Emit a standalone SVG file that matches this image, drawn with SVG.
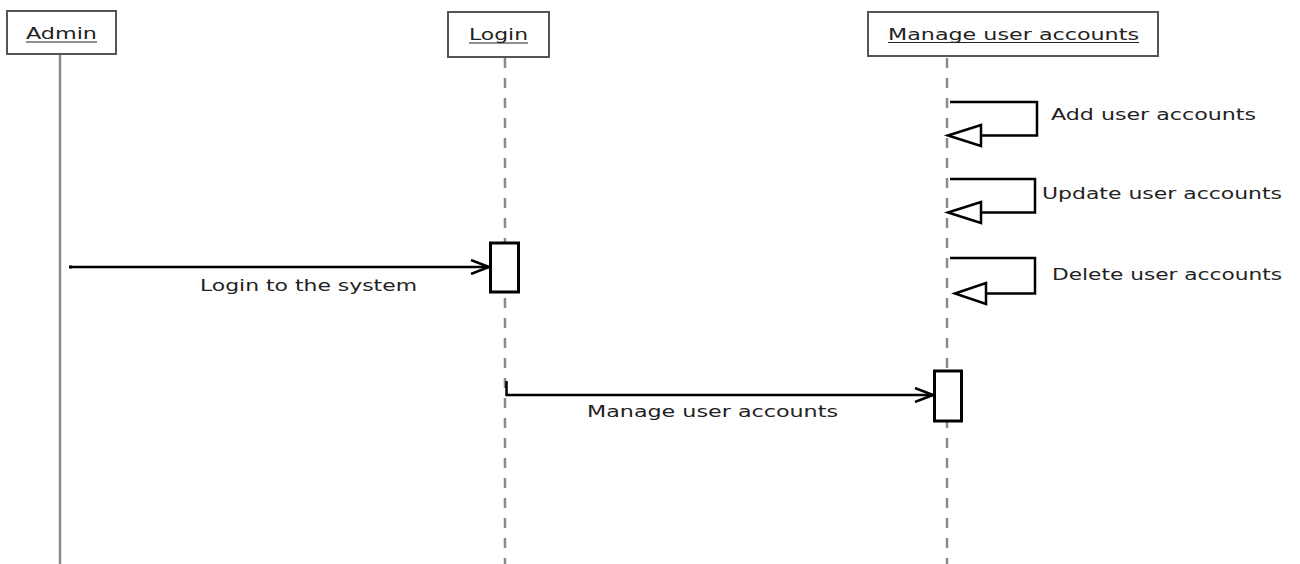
<svg xmlns="http://www.w3.org/2000/svg" width="1300" height="564" viewBox="0 0 1300 564">
  <style>
    .box { fill: #ffffff; stroke: #555555; stroke-width: 2; }
    .lbl { font-family: "DejaVu Sans", Verdana, sans-serif; font-size: 16px; fill: #222222; }
    .ul { stroke: #222222; stroke-width: 1.2; }
    .life { stroke: #8a8a8a; stroke-width: 2.5; fill: none; }
    .dash { stroke-dasharray: 10 10; }
    .msg { stroke: #000000; stroke-width: 2.5; fill: none; }
    .act { fill: #ffffff; stroke: #000000; stroke-width: 3; }
    .tri { fill: #ffffff; stroke: #000000; stroke-width: 2.5; stroke-linejoin: miter; }
  </style>
  <defs>
    <marker id="open" viewBox="0 0 20 16" refX="19" refY="8" markerWidth="20" markerHeight="16" markerUnits="userSpaceOnUse" orient="auto">
      <path d="M1,1 L19,8 L1,15" fill="none" stroke="#000000" stroke-width="2.5"/>
    </marker>
  </defs>

  <rect width="1300" height="564" fill="#ffffff"/>

  <!-- lifelines -->
  <g id="lifelines">
    <line class="life" x1="60" y1="55" x2="60" y2="564"/>
    <line class="life dash" x1="505" y1="58" x2="505" y2="564"/>
    <line class="life dash" x1="947" y1="58" x2="947" y2="564"/>
  </g>

  <!-- participants -->
  <g id="admin">
    <rect class="box" x="7" y="11" width="109" height="43"/>
    <text class="lbl" x="26" y="39" textLength="71" lengthAdjust="spacingAndGlyphs">Admin</text>
    <line class="ul" x1="26" y1="42" x2="97" y2="42"/>
  </g>
  <g id="login">
    <rect class="box" x="448" y="12" width="101" height="45"/>
    <text class="lbl" x="469" y="40" textLength="59" lengthAdjust="spacingAndGlyphs">Login</text>
    <line class="ul" x1="469" y1="43" x2="528" y2="43"/>
  </g>
  <g id="manage">
    <rect class="box" x="868" y="12" width="290" height="44"/>
    <text class="lbl" x="888" y="40" textLength="251" lengthAdjust="spacingAndGlyphs">Manage user accounts</text>
    <line class="ul" x1="888" y1="42.5" x2="1139" y2="42.5"/>
  </g>

  <!-- activation bars -->
  <g id="login-activation">
    <rect class="act" x="490.5" y="243" width="28" height="49"/>
  </g>
  <g id="manage-activation">
    <rect class="act" x="934.5" y="371" width="27" height="50"/>
  </g>

  <!-- connectors -->
  <g id="connectors">
    <!-- Admin -> Login -->
    <rect x="69" y="265.5" width="3" height="3" fill="#000000"/>
    <line class="msg" x1="70" y1="267" x2="489" y2="267" marker-end="url(#open)"/>
    <!-- Login -> Manage user accounts -->
    <line class="msg" stroke-width="3" x1="506.5" y1="381" x2="506.5" y2="396"/>
    <line class="msg" x1="506" y1="395" x2="933" y2="395" marker-end="url(#open)"/>

    <!-- self calls on Manage user accounts -->
    <polyline class="msg" points="950,102 1037,102 1037,135.5 981,135.5"/>
    <polygon class="tri" points="948,135.5 981,125 981,146"/>

    <polyline class="msg" points="950,179 1035,179 1035,212.5 981,212.5"/>
    <polygon class="tri" points="948,212.5 981,202 981,223"/>

    <polyline class="msg" points="950,258 1035,258 1035,293.5 986,293.5"/>
    <polygon class="tri" points="955,293.5 986,283 986,304"/>
  </g>

  <!-- message labels -->
  <g id="labels">
    <text class="lbl" x="200" y="291" textLength="217" lengthAdjust="spacingAndGlyphs">Login to the system</text>
    <text class="lbl" x="587" y="417" textLength="251" lengthAdjust="spacingAndGlyphs">Manage user accounts</text>
    <text class="lbl" x="1051" y="120" textLength="205" lengthAdjust="spacingAndGlyphs">Add user accounts</text>
    <text class="lbl" x="1042" y="199" textLength="240" lengthAdjust="spacingAndGlyphs">Update user accounts</text>
    <text class="lbl" x="1052" y="280" textLength="230" lengthAdjust="spacingAndGlyphs">Delete user accounts</text>
  </g>
</svg>
